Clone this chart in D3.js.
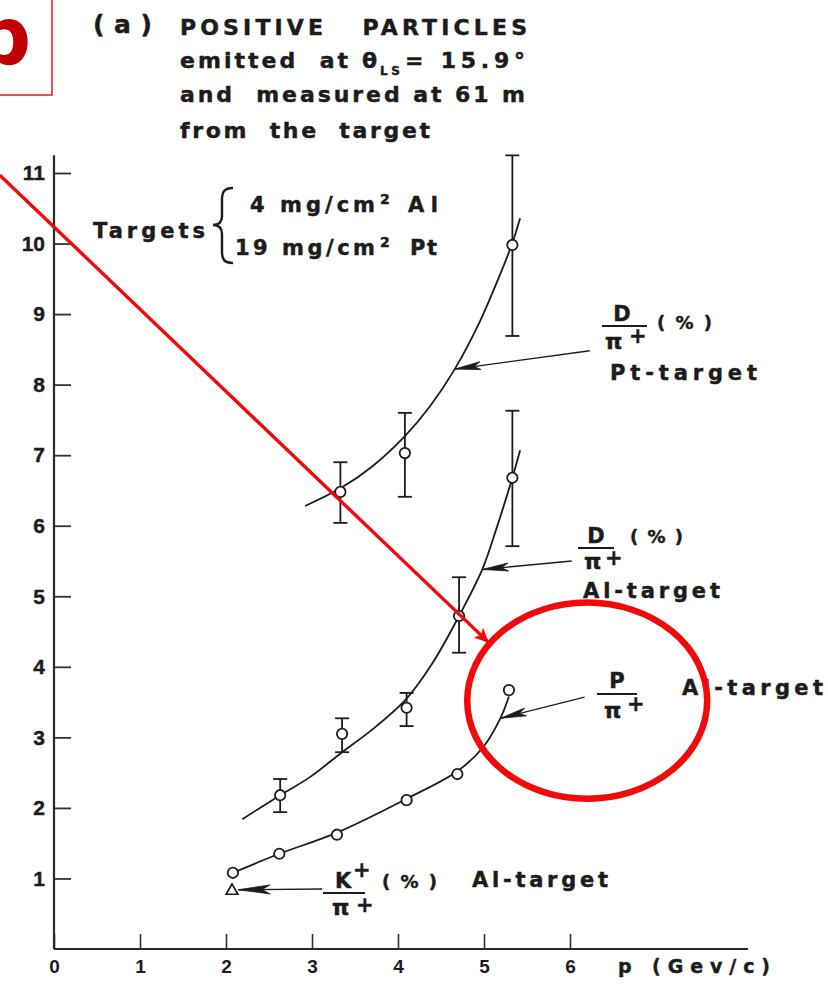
<!DOCTYPE html>
<html>
<head>
<meta charset="utf-8">
<script src="https://cdn.jsdelivr.net/npm/d3@7"></script>
<style>
  html, body { margin: 0; padding: 0; background: #fff; }
  svg { display: block; }
  text { white-space: pre; }
</style>
</head>
<body>
<svg id="chart" width="828" height="984"></svg>
<script>
// ---------- data ----------
const xTicks = [0, 1, 2, 3, 4, 5, 6];
const yTicks = [1, 2, 3, 4, 5, 6, 7, 8, 9, 10, 11];

// D/pi+ (%) on the Pt target: measured points with error bars
const ptP   = [3.33, 4.08, 5.33];
const ptVal = [6.48, 7.03, 9.98];
const ptLo  = [6.04, 6.41, 8.69];
const ptHi  = [6.90, 7.60, 11.25];
// hand-drawn trend line through the Pt points
const ptFitP = [2.92, 3.33, 3.70, 4.08, 4.37, 4.66, 4.95, 5.19, 5.33, 5.42];
const ptFitV = [6.28, 6.53, 6.84, 7.27, 7.69, 8.22, 8.89, 9.57, 10.01, 10.36];

// D/pi+ (%) on the Al target
const alP   = [2.63, 3.35, 4.10, 4.71, 5.33];
const alVal = [2.18, 3.05, 3.42, 4.72, 6.68];
const alLo  = [1.94, 2.79, 3.16, 4.20, 5.71];
const alHi  = [2.41, 3.27, 3.63, 5.27, 7.63];
const alFitP = [2.19, 2.63, 2.98, 3.35, 3.71, 4.10, 4.40, 4.71, 4.98, 5.15, 5.33, 5.42];
const alFitV = [1.84, 2.18, 2.44, 2.79, 3.12, 3.55, 4.05, 4.72, 5.38, 5.98, 6.68, 7.07];

// P/pi+ on the Al target
const prP   = [2.08, 2.62, 3.29, 4.10, 4.69, 5.29];
const prVal = [1.08, 1.35, 1.62, 2.11, 2.48, 3.67];
const prFitP = [2.08, 2.62, 3.29, 4.10, 4.69, 4.99, 5.19, 5.29];
const prFitV = [1.08, 1.35, 1.65, 2.13, 2.52, 2.86, 3.27, 3.58];

// K+/pi+ (%) on the Al target
const kP   = [2.07];
const kVal = [0.81];

// pointer arrows from each label to its curve: [p, value] start -> end
const arrowFrom = [[6.23, 8.48], [6.02, 5.50], [6.17, 3.57], [3.12, 0.85]];
const arrowTo   = [[4.66, 8.22], [4.98, 5.38], [5.19, 3.27], [2.14, 0.84]];

// red mark-up: pointer line and ring around the P/pi+ end point
const redLineFrom = [-0.63, 10.97];
const redLineTo   = [5.05, 4.35];
const ringCenter  = [6.20, 3.52];
const ringRadius  = [1.395, 1.39];

// ---------- scales ----------
const x = d3.scaleLinear().domain([0, 6]).range([54, 570]);
const y = d3.scaleLinear().domain([0, 11]).range([949, 173]);
const xAxisEnd = 8.07, yAxisEnd = 11.25;

const svg = d3.select('#chart');
const ink = '#1c1c1c';
const F = "'DejaVu Sans', sans-serif";
const FT = "'Liberation Sans', Arial, sans-serif";

function label(t, px, py, size, len, opts = {}) {
  const fill = opts.fill || ink;
  const el = svg.append('text')
    .attr('x', px).attr('y', py)
    .attr('font-family', opts.family || F)
    .attr('font-size', size)
    .attr('font-weight', opts.weight || 'bold')
    .attr('text-anchor', opts.anchor || 'start')
    .attr('fill', fill)
    .attr('stroke', fill).attr('stroke-width', opts.sw == null ? 0.45 : opts.sw)
    .text(t);
  if (len) el.attr('textLength', len).attr('lengthAdjust', 'spacing');
  return el;
}
function hline(x1, x2, yy, w = 2.2) {
  svg.append('line').attr('x1', x1).attr('x2', x2).attr('y1', yy).attr('y2', yy)
    .attr('stroke', ink).attr('stroke-width', w);
}

// ---------- axes ----------
const yAxis = d3.axisLeft(y).tickValues(yTicks).tickSize(-17).tickPadding(9).tickFormat(d3.format('d'));
const gy = svg.append('g').attr('transform', `translate(${x(0)},0)`).call(yAxis);
gy.select('.domain').remove();
gy.selectAll('.tick line').attr('stroke', '#333').attr('stroke-width', 1.8);
gy.selectAll('.tick text').attr('font-family', FT).attr('font-size', 21).attr('font-weight', 'bold')
  .attr('fill', ink).attr('stroke', ink).attr('stroke-width', 0.4);

const xAxis = d3.axisBottom(x).tickValues(xTicks).tickSize(-15).tickPadding(11).tickFormat(d3.format('d'));
const gx = svg.append('g').attr('transform', `translate(0,${y(0)})`).call(xAxis);
gx.select('.domain').remove();
gx.selectAll('.tick line').attr('stroke', '#333').attr('stroke-width', 1.6);
gx.selectAll('.tick text').attr('font-family', FT).attr('font-size', 19).attr('font-weight', 'bold')
  .attr('fill', ink);

svg.append('line').attr('x1', x(0)).attr('x2', x(0)).attr('y1', y(yAxisEnd)).attr('y2', y(0))
  .attr('stroke', '#2a2a2a').attr('stroke-width', 2.2);
svg.append('line').attr('x1', x(0)).attr('x2', x(xAxisEnd)).attr('y1', y(0)).attr('y2', y(0))
  .attr('stroke', '#2a2a2a').attr('stroke-width', 2.2);

label('p (Gev/c)', 618, 973, 19, 152);

// ---------- curves ----------
const line = d3.line().x(d => x(d[0])).y(d => y(d[1])).curve(d3.curveCatmullRom.alpha(0.5));
const curves = [
  d3.zip(ptFitP, ptFitV),
  d3.zip(alFitP, alFitV),
  d3.zip(prFitP, prFitV)
];
svg.append('g').selectAll('path').data(curves).join('path')
  .attr('d', line).attr('fill', 'none').attr('stroke', ink).attr('stroke-width', 1.8);

// ---------- error bars ----------
function errorBars(ps, lo, hi) {
  const g = svg.append('g').attr('stroke', ink).attr('stroke-width', 1.8);
  const rows = d3.zip(ps, lo, hi);
  g.selectAll('line.v').data(rows).join('line').attr('class', 'v')
    .attr('x1', d => x(d[0])).attr('x2', d => x(d[0]))
    .attr('y1', d => y(d[1])).attr('y2', d => y(d[2]));
  g.selectAll('line.lo').data(rows).join('line').attr('class', 'lo')
    .attr('x1', d => x(d[0]) - 7).attr('x2', d => x(d[0]) + 7)
    .attr('y1', d => y(d[1])).attr('y2', d => y(d[1]));
  g.selectAll('line.hi').data(rows).join('line').attr('class', 'hi')
    .attr('x1', d => x(d[0]) - 7).attr('x2', d => x(d[0]) + 7)
    .attr('y1', d => y(d[2])).attr('y2', d => y(d[2]));
}
errorBars(ptP, ptLo, ptHi);
errorBars(alP, alLo, alHi);

// ---------- points ----------
function circles(ps, vs) {
  svg.append('g').selectAll('circle').data(d3.zip(ps, vs)).join('circle')
    .attr('cx', d => x(d[0])).attr('cy', d => y(d[1])).attr('r', 5.2)
    .attr('fill', '#fff').attr('stroke', ink).attr('stroke-width', 1.8);
}
circles(ptP, ptVal);
circles(alP, alVal);
circles(prP, prVal);

const tri = d3.symbol().type(d3.symbolTriangle).size(60);
svg.append('g').selectAll('path').data(d3.zip(kP, kVal)).join('path')
  .attr('transform', d => `translate(${x(d[0])},${y(d[1]) - 1})`)
  .attr('d', tri).attr('fill', '#fff').attr('stroke', ink).attr('stroke-width', 1.7);

// ---------- pointer arrows ----------
function arrowHead(g, x1, y1, x2, y2, len, half, color) {
  const a = Math.atan2(y2 - y1, x2 - x1);
  const ca = Math.cos(a), sa = Math.sin(a);
  const bx = x2 - len * ca, by = y2 - len * sa;
  const nx = -sa * half, ny = ca * half;
  const mx = x2 - len * 0.75 * ca, my = y2 - len * 0.75 * sa;
  g.append('path')
    .attr('d', `M${x2},${y2}L${bx + nx},${by + ny}L${mx},${my}L${bx - nx},${by - ny}Z`)
    .attr('fill', color).attr('stroke', color).attr('stroke-width', 0.8);
}
const ga = svg.append('g');
d3.zip(arrowFrom, arrowTo).forEach(([f, t], i) => {
  const x1 = x(f[0]), y1 = y(f[1]), x2 = x(t[0]), y2 = y(t[1]);
  ga.append('line').attr('x1', x1).attr('y1', y1).attr('x2', x2).attr('y2', y2)
    .attr('stroke', ink).attr('stroke-width', 1.4);
  arrowHead(ga, x1, y1, x2, y2, i === 3 ? 32 : 26, i === 3 ? 4.5 : 4, ink);
});

// ---------- title ----------
label('(a)', 93, 33, 25, 59);
label('POSITIVE   PARTICLES', 180, 35, 22, 347);
label('emitted  at θ', 180, 68, 22, 197);
label('LS', 380, 75, 12, 20);
label('= 15.9°', 405, 68, 22, 120);
label('and  measured at 61 m', 180, 102, 22, 345);
label('from  the  target', 180, 138, 22, 250);

// targets legend
label('Targets', 93, 238, 21, 112);
svg.append('path')
  .attr('d', 'M233,188 C224,188 222,192 222,200 L222,216 C222,222 219,225 213,225 C219,225 222,228 222,234 L222,252 C222,259 224,263 233,263')
  .attr('fill', 'none').attr('stroke', ink).attr('stroke-width', 2.4);
label('4 mg/cm', 250, 212, 21, 125);
label('2', 380, 204, 14, 10);
label('Al', 408, 212, 21, 30);
label('19 mg/cm', 235, 255, 21, 140);
label('2', 380, 247, 14, 10);
label('Pt', 410, 255, 21, 27);

// ---------- curve labels ----------
// D/pi+ Pt
label('D', 622, 321, 21, null, { anchor: 'middle' });
hline(602, 647, 326);
label('π', 605, 349, 22);
label('+', 629, 343, 21);
label('(%)', 657, 329, 18, 55);
label('Pt-target', 610, 380, 21, 147);

// D/pi+ Al
label('D', 596, 543, 21, null, { anchor: 'middle' });
hline(578, 614, 548);
label('π', 584, 569, 22);
label('+', 605, 565, 21);
label('(%)', 630, 543, 18, 53);
label('Al-target', 583, 598, 21, 137);

// P/pi+ Al
label('P', 617, 688, 21, null, { anchor: 'middle' });
hline(597, 637, 694);
label('π', 604, 718, 22);
label('+', 627, 711, 21);
label('Al-target', 682, 695, 21, 141);

// K+/pi+ Al
label('K', 335, 888, 21);
label('+', 353, 877, 21);
hline(323, 365, 893);
label('π', 332, 915, 22);
label('+', 356, 912, 21);
label('(%)', 382, 888, 18, 55);
label('Al-target', 472, 887, 21, 136);

// ---------- red mark-up ----------
const red = '#f20a0a';
svg.append('rect').attr('x', -10).attr('y', -10).attr('width', 62).attr('height', 105)
  .attr('fill', 'none').attr('stroke', '#e8232a').attr('stroke-width', 1.6);
label('b', -26, 64, 80, null, { fill: '#c00000', sw: 0 });

const rg = svg.append('g');
const rx1 = x(redLineFrom[0]), ry1 = y(redLineFrom[1]);
const rx2 = x(redLineTo[0]), ry2 = y(redLineTo[1]);
rg.append('line').attr('x1', rx1).attr('y1', ry1).attr('x2', rx2).attr('y2', ry2)
  .attr('stroke', red).attr('stroke-width', 3.4);
arrowHead(rg, rx1, ry1, rx2, ry2, 13, 6, red);

rg.append('ellipse')
  .attr('cx', x(ringCenter[0])).attr('cy', y(ringCenter[1]))
  .attr('rx', x(ringCenter[0] + ringRadius[0]) - x(ringCenter[0]))
  .attr('ry', y(ringCenter[1] - ringRadius[1]) - y(ringCenter[1]))
  .attr('fill', 'none').attr('stroke', red).attr('stroke-width', 6.5);
</script>
</body>
</html>
